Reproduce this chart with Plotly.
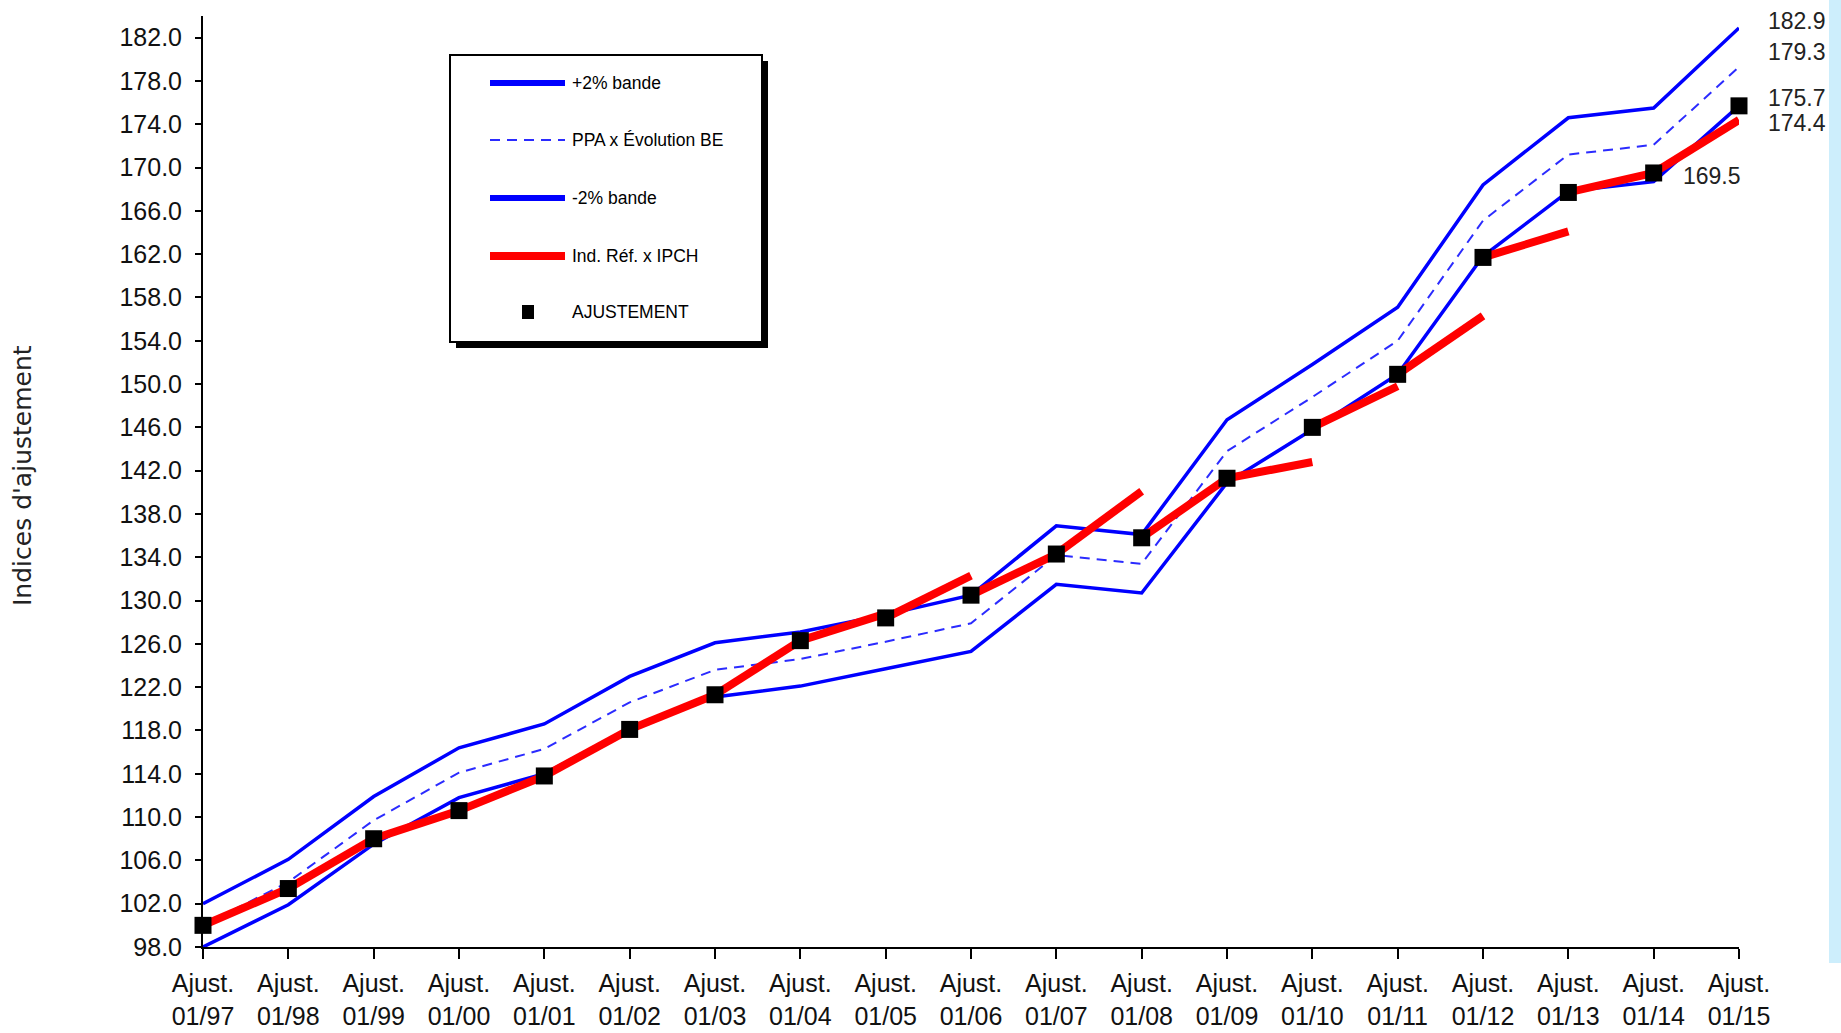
import plotly.graph_objects as go

# ---------------- data ----------------
periods = ["01/97", "01/98", "01/99", "01/00", "01/01", "01/02", "01/03", "01/04", "01/05",
           "01/06", "01/07", "01/08", "01/09", "01/10", "01/11", "01/12", "01/13", "01/14", "01/15"]
tick_labels = ["Ajust.<br>" + p for p in periods]

band_plus2 = [102.0, 106.1, 111.9, 116.4, 118.6, 123.0, 126.1, 127.1, 128.7, 130.5,
              136.9, 136.1, 146.7, 151.8, 157.1, 168.4, 174.6, 175.5, 182.9]
ppa_evolution_be = [100.0, 104.0, 109.7, 114.1, 116.3, 120.6, 123.6, 124.6, 126.2, 127.9,
                    134.2, 133.4, 143.8, 148.8, 154.0, 165.1, 171.2, 172.1, 179.3]
band_minus2 = [98.0, 101.9, 107.5, 111.8, 114.0, 118.2, 121.1, 122.1, 123.7, 125.3,
               131.5, 130.7, 140.9, 145.8, 150.9, 161.8, 167.8, 168.7, 175.7]
ajustement = [100.0, 103.4, 108.0, 110.6, 113.8, 118.1, 121.3, 126.3, 128.4, 130.5,
              134.3, 135.8, 141.3, 146.0, 150.9, 161.7, 167.7, 169.5, 175.7]
# Ind. Réf. x IPCH : value reached one year later, starting from each adjustment
ipch_next = [103.4, 108.0, 110.6, 113.8, 118.1, 121.3, 126.3, 128.8, 132.3,
             134.3, 140.1, 141.3, 142.8, 149.8, 156.3, 164.1, 169.5, 174.4]

xs = list(range(len(periods)))

# red segments (one per year, separated by gaps)
red_x, red_y = [], []
for i, end in enumerate(ipch_next):
    red_x += [xs[i], xs[i + 1], None]
    red_y += [ajustement[i], end, None]

NARROW = "Liberation Sans Narrow, Arial Narrow, Liberation Sans, Arial, sans-serif"
BLUE = "#0000ff"
RED = "#ff0000"

fig = go.Figure()
fig.add_trace(go.Scatter(x=xs, y=band_plus2, mode="lines", name="+2% bande",
                         line=dict(color=BLUE, width=3.5), cliponaxis=False))
fig.add_trace(go.Scatter(x=xs, y=ppa_evolution_be, mode="lines", name="PPA x Évolution BE",
                         line=dict(color="#2b2bff", width=2, dash="10px,7px"), cliponaxis=False))
fig.add_trace(go.Scatter(x=xs, y=band_minus2, mode="lines", name="-2% bande",
                         line=dict(color=BLUE, width=3.5), cliponaxis=False))
fig.add_trace(go.Scatter(x=red_x, y=red_y, mode="lines", name="Ind. Réf. x IPCH",
                         line=dict(color=RED, width=8), cliponaxis=False, connectgaps=False))
fig.add_trace(go.Scatter(x=xs, y=ajustement, mode="markers", name="AJUSTEMENT",
                         marker=dict(symbol="square", size=17, color="black"), cliponaxis=False))

# ---------------- layout geometry ----------------
W, H = 1841, 1033
ML, MR, MT, MB = 203, 102, 16, 86
PW, PH = W - ML - MR, H - MT - MB


def px(x):
    return (x - ML) / PW


def py(y):
    return (H - MB - y) / PH


shapes = []
annotations = []

# right-hand light blue strip
shapes.append(dict(type="rect", xref="paper", yref="paper", x0=px(1829), x1=px(1841),
                   y0=py(963), y1=py(0), fillcolor="#cdeefc", line=dict(width=0), layer="below"))

# legend box with shadow
shapes.append(dict(type="rect", xref="paper", yref="paper", x0=px(456), x1=px(768),
                   y0=py(348), y1=py(61), fillcolor="black", line=dict(width=0)))
shapes.append(dict(type="rect", xref="paper", yref="paper", x0=px(450), x1=px(762),
                   y0=py(342), y1=py(55), fillcolor="white", line=dict(color="black", width=2)))

legend_items = [
    ("+2% bande", dict(color=BLUE, width=6), None),
    ("PPA x Évolution BE", dict(color="#2b2bff", width=2, dash="10px,7px"), None),
    ("-2% bande", dict(color=BLUE, width=6), None),
    ("Ind. Réf. x IPCH", dict(color=RED, width=8), None),
    ("AJUSTEMENT", None, "square"),
]
rows_y = [83, 140, 198, 256, 312]
for (label, line, sym), ry in zip(legend_items, rows_y):
    if line is not None:
        shapes.append(dict(type="line", xref="paper", yref="paper", x0=px(490), x1=px(565),
                           y0=py(ry), y1=py(ry), line=line))
    else:
        shapes.append(dict(type="rect", xref="paper", yref="paper", x0=px(522), x1=px(534),
                           y0=py(ry + 7), y1=py(ry - 7), fillcolor="black", line=dict(width=0)))
    annotations.append(dict(xref="paper", yref="paper", x=px(570), y=py(ry), text=label,
                            showarrow=False, xanchor="left", yanchor="middle",
                            font=dict(family=NARROW, size=17.5, color="black")))

# y-axis title
annotations.append(dict(xref="paper", yref="paper", x=px(22), y=py(476),
                        text="Indices d'ajustement", textangle=-90, showarrow=False,
                        xanchor="center", yanchor="middle",
                        font=dict(family="DejaVu Sans, Liberation Sans, Arial", size=25, color="#222222")))

# end-of-series value labels
last = xs[-1]
value_labels = [
    (last, band_plus2[-1], 7),
    (last, ppa_evolution_be[-1], 15),
    (last, ajustement[-1], 8),
    (last, ipch_next[-1], -3),
    (xs[17], ajustement[17], -3),
]
for lx, lv, ys in value_labels:
    annotations.append(dict(x=lx, y=lv, xref="x", yref="y", text=f"{lv:.1f}", showarrow=False,
                            xanchor="left", yanchor="middle", xshift=27, yshift=ys,
                            font=dict(family=NARROW, size=23, color="#222222")))

fig.update_layout(
    width=W, height=H,
    margin=dict(l=ML, r=MR, t=MT, b=MB, pad=0, autoexpand=False),
    plot_bgcolor="white", paper_bgcolor="white",
    showlegend=False,
    shapes=shapes,
    annotations=annotations,
    font=dict(family=NARROW, color="#111111"),
)
fig.update_xaxes(
    range=[0, 18], tickmode="array", tickvals=xs, ticktext=tick_labels,
    showgrid=False, zeroline=False, showline=True, linecolor="black", linewidth=2,
    ticks="outside", ticklen=10, tickwidth=1.5, tickcolor="black", automargin=False,
    tickfont=dict(family=NARROW, size=25, color="#111111"), ticklabelstandoff=3,
)
fig.update_yaxes(
    range=[98, 184], tickmode="array", tickvals=list(range(98, 183, 4)),
    ticktext=[f"{v:.1f}" for v in range(98, 183, 4)],
    showgrid=False, zeroline=False, showline=True, linecolor="black", linewidth=2,
    ticks="outside", ticklen=6, tickwidth=1.5, tickcolor="black", automargin=False,
    tickfont=dict(family=NARROW, size=25, color="#111111"), ticklabelstandoff=8,
)

fig.write_html("out.html")
